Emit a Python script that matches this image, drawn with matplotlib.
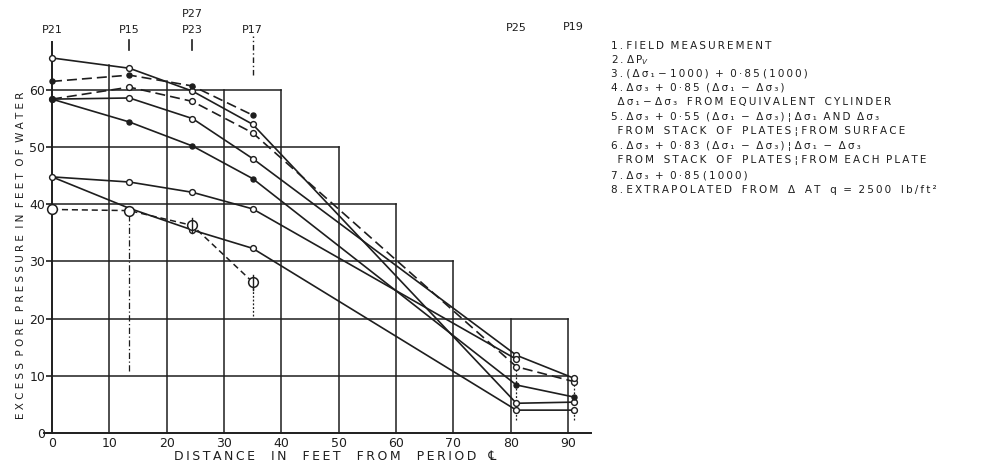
import matplotlib
matplotlib.use("Agg")
import matplotlib.pyplot as plt

# Piezometer stations (distance from centre line, ft)
stations = [0, 13.5, 24.5, 35, 81, 91]
station_names = ["P21", "P15", "P23", "P17", "P25", "P19"]

# Excess pore pressure curves (ft of water) at the stations
curve_top = [65.6, 63.8, 59.8, 54.0, 5.2, 5.4]
curve_dash_filled = [61.5, 62.6, 60.7, 55.6]
curve_dash_open = [58.4, 60.5, 58.0, 52.5, 11.6, 9.0]
curve_mid = [58.4, 58.6, 55.0, 48.0, 13.6, 9.6]
curve_filled = [58.4, 54.4, 50.2, 44.5, 8.4, 6.3]
curve_a = [44.8, 43.9, 42.1, 39.2, 12.9]
curve_b = [44.8, 39.3, 35.5, 32.3, 4.0, 4.0]
field = [39.1, 38.9, 36.3, 26.4]
field_low = [None, 10.8, None, 20.5, 2.3, 2.3]
field_high = [None, 38.0, None, 25.5, 11.6, 9.0]

x_ticks = [0, 10, 20, 30, 40, 50, 60, 70, 80, 90]
y_ticks = [0, 10, 20, 30, 40, 50, 60]

legend_lines = [
    "1. FIELD  MEASUREMENT",
    "2. \u0394P$_V$",
    "3. (\u0394\u03c3\u2081 \u2212 1000)  +  0\u00b785 (1000)",
    "4. \u0394\u03c3\u2083  +  0\u00b785  (\u0394\u03c3\u2081  \u2212  \u0394\u03c3\u2083)",
    "  \u0394\u03c3\u2081 \u2212 \u0394\u03c3\u2083   FROM  EQUIVALENT   CYLINDER",
    "5. \u0394\u03c3\u2083  +  0\u00b755  (\u0394\u03c3\u2081  \u2212  \u0394\u03c3\u2083) \u00a6 \u0394\u03c3\u2081  AND  \u0394\u03c3\u2083",
    "  FROM   STACK   OF   PLATES \u00a6 FROM  SURFACE",
    "6. \u0394\u03c3\u2083  +  0\u00b783  (\u0394\u03c3\u2081  \u2212  \u0394\u03c3\u2083) \u00a6 \u0394\u03c3\u2081  \u2212  \u0394\u03c3\u2083",
    "  FROM   STACK   OF   PLATES \u00a6 FROM  EACH  PLATE",
    "7. \u0394\u03c3\u2083  +  0\u00b785 (1000)",
    "8. EXTRAPOLATED   FROM   \u0394   AT   q  =  2500   lb/ft\u00b2",
]

INK = "#1e1e1e"
W, H = 984, 462
PX_X0, PX_XS = 52.0, 5.733   # pixel of x=0, pixels per ft
PX_Y0, PX_YS = 433.0, 5.717  # pixel of y=0, pixels per ft of water


def dx(px):
    return (px - PX_X0) / PX_XS


def dy(py):
    return (PX_Y0 - py) / PX_YS


def spaced(s, gap="\u2009"):
    """Open up lettering with thin spaces, leaving mathtext untouched."""
    out, in_math = [], False
    for i, ch in enumerate(s):
        out.append(ch)
        if ch == "$":
            in_math = not in_math
            continue
        nxt = s[i + 1] if i + 1 < len(s) else ""
        if not in_math and nxt and nxt != "$" and ch != " " and nxt != " ":
            out.append(gap)
    return "".join(out)


fig = plt.figure(figsize=(W / 100, H / 100), dpi=100)
ax = fig.add_axes([0, 0, 1, 1])
ax.set_xlim(dx(0), dx(W))
ax.set_ylim(dy(H), dy(0))
ax.patch.set_alpha(0)

# axes: spines through the origin with limited extent
for s in ("top", "right"):
    ax.spines[s].set_visible(False)
ax.spines["left"].set_position(("data", 0))
ax.spines["bottom"].set_position(("data", 0))
ax.spines["left"].set_bounds(0, 68.4)
ax.spines["bottom"].set_bounds(-1.4, 94)
for s in ("left", "bottom"):
    ax.spines[s].set_color(INK)
    ax.spines[s].set_linewidth(1.4)
ax.set_xticks(x_ticks)
ax.set_yticks(y_ticks)
ax.set_xticklabels([str(v) for v in x_ticks])
ax.set_yticklabels([str(v) for v in y_ticks])
ax.tick_params(axis="y", direction="out", length=4, width=1.2, color=INK,
               labelsize=9, labelcolor=INK, pad=1)
ax.tick_params(axis="x", direction="out", length=0, labelsize=9,
               labelcolor=INK, pad=3)

# stepped grid
h_grid = [(10, 90), (20, 90), (30, 70), (40, 60), (50, 50), (60, 40)]
v_grid = [(10, 64.3), (20, 61.6), (30, 60), (40, 60), (50, 50), (60, 40),
          (70, 30), (80, 20), (90, 20)]
for yv, xe in h_grid:
    ax.plot([0, xe], [yv, yv], color=INK, lw=1.1, zorder=1)
for xv, ye in v_grid:
    ax.plot([xv, xv], [0, ye], color=INK, lw=1.1, zorder=1)

# station markers above the plot
ax.plot([13.5, 13.5], [67.0, 68.7], color=INK, lw=1.2)
ax.plot([24.5, 24.5], [67.0, 68.7], color=INK, lw=1.2)
ax.plot([35, 35], [62.6, 69.4], color=INK, lw=1.0, ls=(0, (4, 2, 1, 2)))
label_y = [70.5, 70.5, 70.5, 70.5, 70.9, 71.0]
for xs, name, ly in zip(stations, station_names, label_y):
    ax.text(xs, ly, name, ha="center", va="center", fontsize=8, color=INK)
ax.text(24.5, 73.3, "P27", ha="center", va="center", fontsize=8, color=INK)

lw = 1.2
ms_open = 4.2
ms_fill = 3.6


def curve(xs, ys, ls, filled, first_filled=False):
    ax.plot(xs, ys, color=INK, lw=lw, ls=ls, zorder=3)
    for i, (xv, yv) in enumerate(zip(xs, ys)):
        f = filled or (first_filled and i == 0)
        ax.plot(xv, yv, marker="o", ms=ms_fill if f else ms_open,
                mfc=INK if f else "white", mec=INK, mew=1.0, zorder=4)


dash = (0, (6, 3))
curve(stations, curve_top, "-", False)
curve(stations[:4], curve_dash_filled, dash, True)
curve(stations, curve_dash_open, dash, False, first_filled=True)
curve(stations, curve_mid, "-", False)
curve(stations, curve_filled, "-", True)
curve(stations[:5], curve_a, "-", False)
ax.plot(stations, curve_b, color=INK, lw=lw, zorder=3)
for xv, yv in zip(stations[2:], curve_b[2:]):
    ax.plot(xv, yv, marker="o", ms=ms_open, mfc="white", mec=INK,
            mew=1.0, zorder=4)

# field measurements
ax.plot(stations[:4], field, color=INK, lw=1.1, ls=(0, (4, 2.5)), zorder=3)
for xv, yv in zip(stations[:4], field):
    ax.plot(xv, yv, marker="o", ms=7, mfc="white", mec=INK, mew=1.1,
            zorder=5)
for xv, yv in zip(stations[2:4], field[2:4]):
    ax.plot([xv, xv], [yv - 1.3, yv + 1.3], color=INK, lw=1.0, zorder=6)
for xv, lo, hi in zip(stations, field_low, field_high):
    if lo is None:
        continue
    ax.plot([xv, xv], [lo, hi], color=INK, lw=0.9,
            ls=(0, (5, 2, 1, 2)) if xv < 20 else (0, (1.5, 1.5)), zorder=2)

# axis titles
ax.text(dx(335), dy(457),
        "    ".join(spaced(w) for w in
                    ["DISTANCE", "IN", "FEET", "FROM", "PERIOD"]) + "   \u2104",
        ha="center", va="center", fontsize=9, color=INK)
ax.text(dx(21), dy(255),
        "  ".join(spaced(w, " ") for w in
                  ["EXCESS", "PORE", "PRESSURE", "IN", "FEET", "OF", "WATER"]),
        ha="center", va="center", rotation=90, fontsize=7.5, color=INK)

# key
key_y = [46, 60, 74, 88, 102, 117, 131, 146, 160, 175, 190]
for txt, py in zip(legend_lines, key_y):
    ax.text(dx(611), dy(py), spaced(txt), ha="left", va="center",
            fontsize=7.5, color=INK)

fig.savefig("out.png", dpi=100)
